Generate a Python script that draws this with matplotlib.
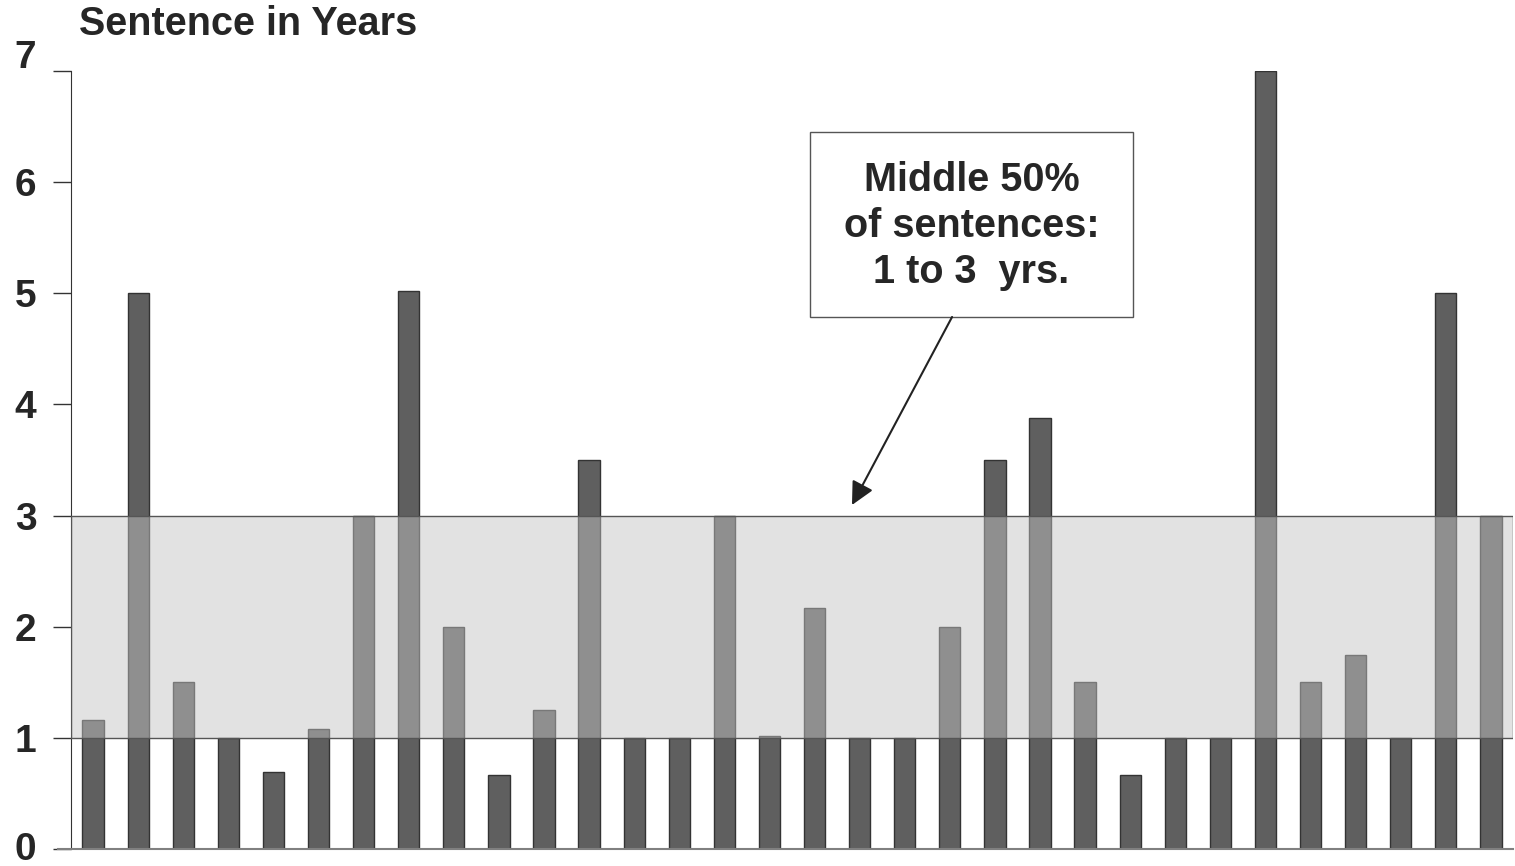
import numpy as np
import matplotlib
matplotlib.use("Agg")
import matplotlib.pyplot as plt
import matplotlib.transforms as mtransforms
from matplotlib.patches import Rectangle

plt.rcParams["font.family"] = ["Liberation Sans", "DejaVu Sans"]
plt.rcParams["font.weight"] = "bold"

# ---------- Data ----------
sentences = [1.16, 5.0, 1.5, 1.0, 0.69, 1.08, 3.0, 5.02, 2.0, 0.67,
             1.25, 3.5, 1.0, 1.0, 3.0, 1.02, 2.17, 1.0, 1.0, 2.0,
             3.5, 3.88, 1.5, 0.67, 1.0, 1.0, 7.0, 1.5, 1.75, 1.0,
             5.0, 3.0]
band_low, band_high = 1, 3
y_ticks = [0, 1, 2, 3, 4, 5, 6, 7]
note_text = "Middle 50%\nof sentences:\n1 to 3  yrs."

TEXT = "#262626"

fig = plt.figure(figsize=(15.15, 8.66), dpi=100)
ax = fig.add_axes([71 / 1515, 17 / 866, 1442 / 1515, 778 / 866])

x = np.arange(len(sentences))
ax.bar(x, sentences, width=0.47, color="#5f5f5f", edgecolor="#333333",
       linewidth=1, zorder=2)

# shaded middle band
ax.axhspan(band_low, band_high, facecolor=(0.77, 0.77, 0.77), alpha=0.48,
           edgecolor="none", zorder=3)
ax.axhspan(band_low, band_high, facecolor="none", edgecolor="#555555",
           linewidth=1, zorder=4)

ax.set_xlim(-0.49, 31.49)
ax.set_ylim(0, 7)
ax.set_yticks(y_ticks)
ax.set_xticks([])
ax.tick_params(axis="y", length=13, width=1, color="#333333", pad=12,
               labelsize=28, labelcolor=TEXT)
for lbl in ax.get_yticklabels():
    lbl.set_fontweight("bold")
# top label sits higher and bottom label a touch higher in the original
labels = ax.get_yticklabels()
labels[-1].set_transform(labels[-1].get_transform() +
                         mtransforms.ScaledTranslation(0, 0.17, fig.dpi_scale_trans))
labels[0].set_transform(labels[0].get_transform() +
                        mtransforms.ScaledTranslation(0, 0.03, fig.dpi_scale_trans))

for s in ["top", "right"]:
    ax.spines[s].set_visible(False)
ax.spines["left"].set_color("#333333")
ax.spines["bottom"].set_color("#808080")
ax.spines["bottom"].set_linewidth(1.5)
ax.spines["bottom"].set_bounds(-0.78, 31.49)
ax.spines["bottom"].set_zorder(5)

fig.text(79 / 1515, 1 - 24 / 866, "Sentence in Years", fontsize=28.5,
         fontweight="bold", color=TEXT, ha="left", va="center")

# annotation box
ax.add_patch(Rectangle((15.90, 4.787), 7.16, 1.663, facecolor="white",
                       edgecolor="#555555", linewidth=1, zorder=6))
ax.text(19.48, 5.605, note_text, ha="center", va="center", fontsize=28.5,
        fontweight="bold", color=TEXT, linespacing=1.28, zorder=7)
ax.annotate("", xy=(16.83, 3.095), xytext=(19.05, 4.787),
            arrowprops=dict(arrowstyle="-|>,head_length=1.4,head_width=0.7",
                            color="#222222", lw=1.5, shrinkA=0, shrinkB=0),
            zorder=7)

fig.savefig("out.png", dpi=100)
